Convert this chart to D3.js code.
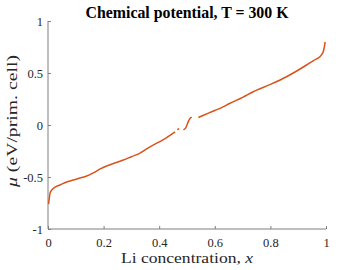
<!DOCTYPE html>
<html>
<head>
  <script src="https://cdn.jsdelivr.net/npm/d3@7"></script>
  <style>
    body { margin: 0; background: #fff; }
  </style>
</head>
<body>
  <div id="chart"></div>
  <script>
    // chemical potential vs Li concentration (null = break in the curve)
    const conc = [0.002, 0.004, 0.007, 0.012, 0.019, 0.03, 0.043, 0.065, 0.091, 0.115, 0.139, 0.163, 0.19, 0.211, 0.24, 0.271, 0.3, 0.331, 0.367, 0.415, 0.457,
      null, 0.465, 0.472,
      null, 0.487, 0.495, 0.5, 0.505, 0.51, 0.517,
      null, 0.541, 0.6, 0.619, 0.655, 0.7, 0.738, 0.8, 0.858, 0.93, 0.955, 0.978, 0.985, 0.99, 0.994, 0.997]
    const mu = [-0.76, -0.72, -0.66, -0.63, -0.61, -0.59, -0.577, -0.55, -0.529, -0.51, -0.49, -0.46, -0.42, -0.394, -0.365, -0.337, -0.305, -0.27, -0.21, -0.14, -0.065,
      null, -0.045, -0.035,
      null, -0.045, -0.03, 0.0, 0.035, 0.06, 0.075,
      null, 0.072, 0.14, 0.16, 0.209, 0.265, 0.32, 0.39, 0.464, 0.577, 0.62, 0.657, 0.68, 0.705, 0.75, 0.8]
    const xTicks = [0, 0.2, 0.4, 0.6, 0.8, 1]
    const yTicks = [-1, -0.5, 0, 0.5, 1]

    const width = 360, height = 270
    const margin = {top: 21, right: 34, bottom: 41, left: 48}
    const serif = '"Liberation Serif", "Times New Roman", serif'

    const svg = d3.select("#chart").append("svg")
      .attr("width", width)
      .attr("height", height)

    const x = d3.scaleLinear().domain([0, 1]).range([margin.left, width - margin.right])
    const y = d3.scaleLinear().domain([-1, 1]).range([height - margin.bottom, margin.top])

    const axisColor = "#262626"

    const gx = svg.append("g")
      .attr("transform", `translate(0,${y(-1)})`)
      .call(d3.axisBottom(x).tickValues(xTicks).tickSize(-3).tickPadding(9).tickFormat(d => d))
    const gy = svg.append("g")
      .attr("transform", `translate(${x(0)},0)`)
      .call(d3.axisLeft(y).tickValues(yTicks).tickSize(-3).tickPadding(5).tickFormat(d => d))

    for (const g of [gx, gy]) {
      g.attr("font-family", null).attr("font-size", null)
      g.select(".domain").attr("stroke", "#7f7f7f").attr("stroke-width", 1)
      g.selectAll(".tick line").attr("stroke", "#7f7f7f")
      g.selectAll(".tick text")
        .attr("fill", axisColor)
        .style("font-family", serif)
        .style("font-size", "12.5px")
    }
    gy.select(".domain").attr("d", `M0,${y(1)}V${y(-1)}`)
    gx.select(".domain").attr("d", `M${x(0)},0H${x(1)}`)

    const pts = conc.map((c, i) => ({c: c, m: mu[i]}))
    const line = d3.line()
      .defined(d => d.c !== null)
      .x(d => x(d.c))
      .y(d => y(d.m))
      .curve(d3.curveMonotoneX)

    svg.append("path")
      .datum(pts)
      .attr("fill", "none")
      .attr("stroke", "#D95319")
      .attr("stroke-width", 1.5)
      .attr("d", line)

    svg.append("text")
      .attr("x", (x(0) + x(1)) / 2)
      .attr("y", 17.5)
      .attr("text-anchor", "middle")
      .style("font-family", serif)
      .style("font-weight", "bold")
      .style("font-size", "16px")
      .attr("textLength", 203)
      .attr("lengthAdjust", "spacingAndGlyphs")
      .attr("fill", "#000")
      .text("Chemical potential, T = 300 K")

    const xl = svg.append("text")
      .attr("x", (x(0) + x(1)) / 2)
      .attr("y", 262.5)
      .attr("text-anchor", "middle")
      .style("font-family", serif)
      .style("font-size", "14.5px")
      .attr("textLength", 132)
      .attr("lengthAdjust", "spacingAndGlyphs")
      .attr("fill", axisColor)
    xl.append("tspan").text("Li concentration, ")
    xl.append("tspan").attr("font-style", "italic").text("x")

    const yl = svg.append("text")
      .attr("transform", `translate(17,121) rotate(-90)`)
      .attr("text-anchor", "middle")
      .style("font-family", serif)
      .style("font-size", "14.5px")
      .attr("textLength", 132)
      .attr("lengthAdjust", "spacingAndGlyphs")
      .attr("fill", axisColor)
    yl.append("tspan").attr("font-style", "italic").text("μ")
    yl.append("tspan").text(" (eV/prim. cell)")
  </script>
</body>
</html>
